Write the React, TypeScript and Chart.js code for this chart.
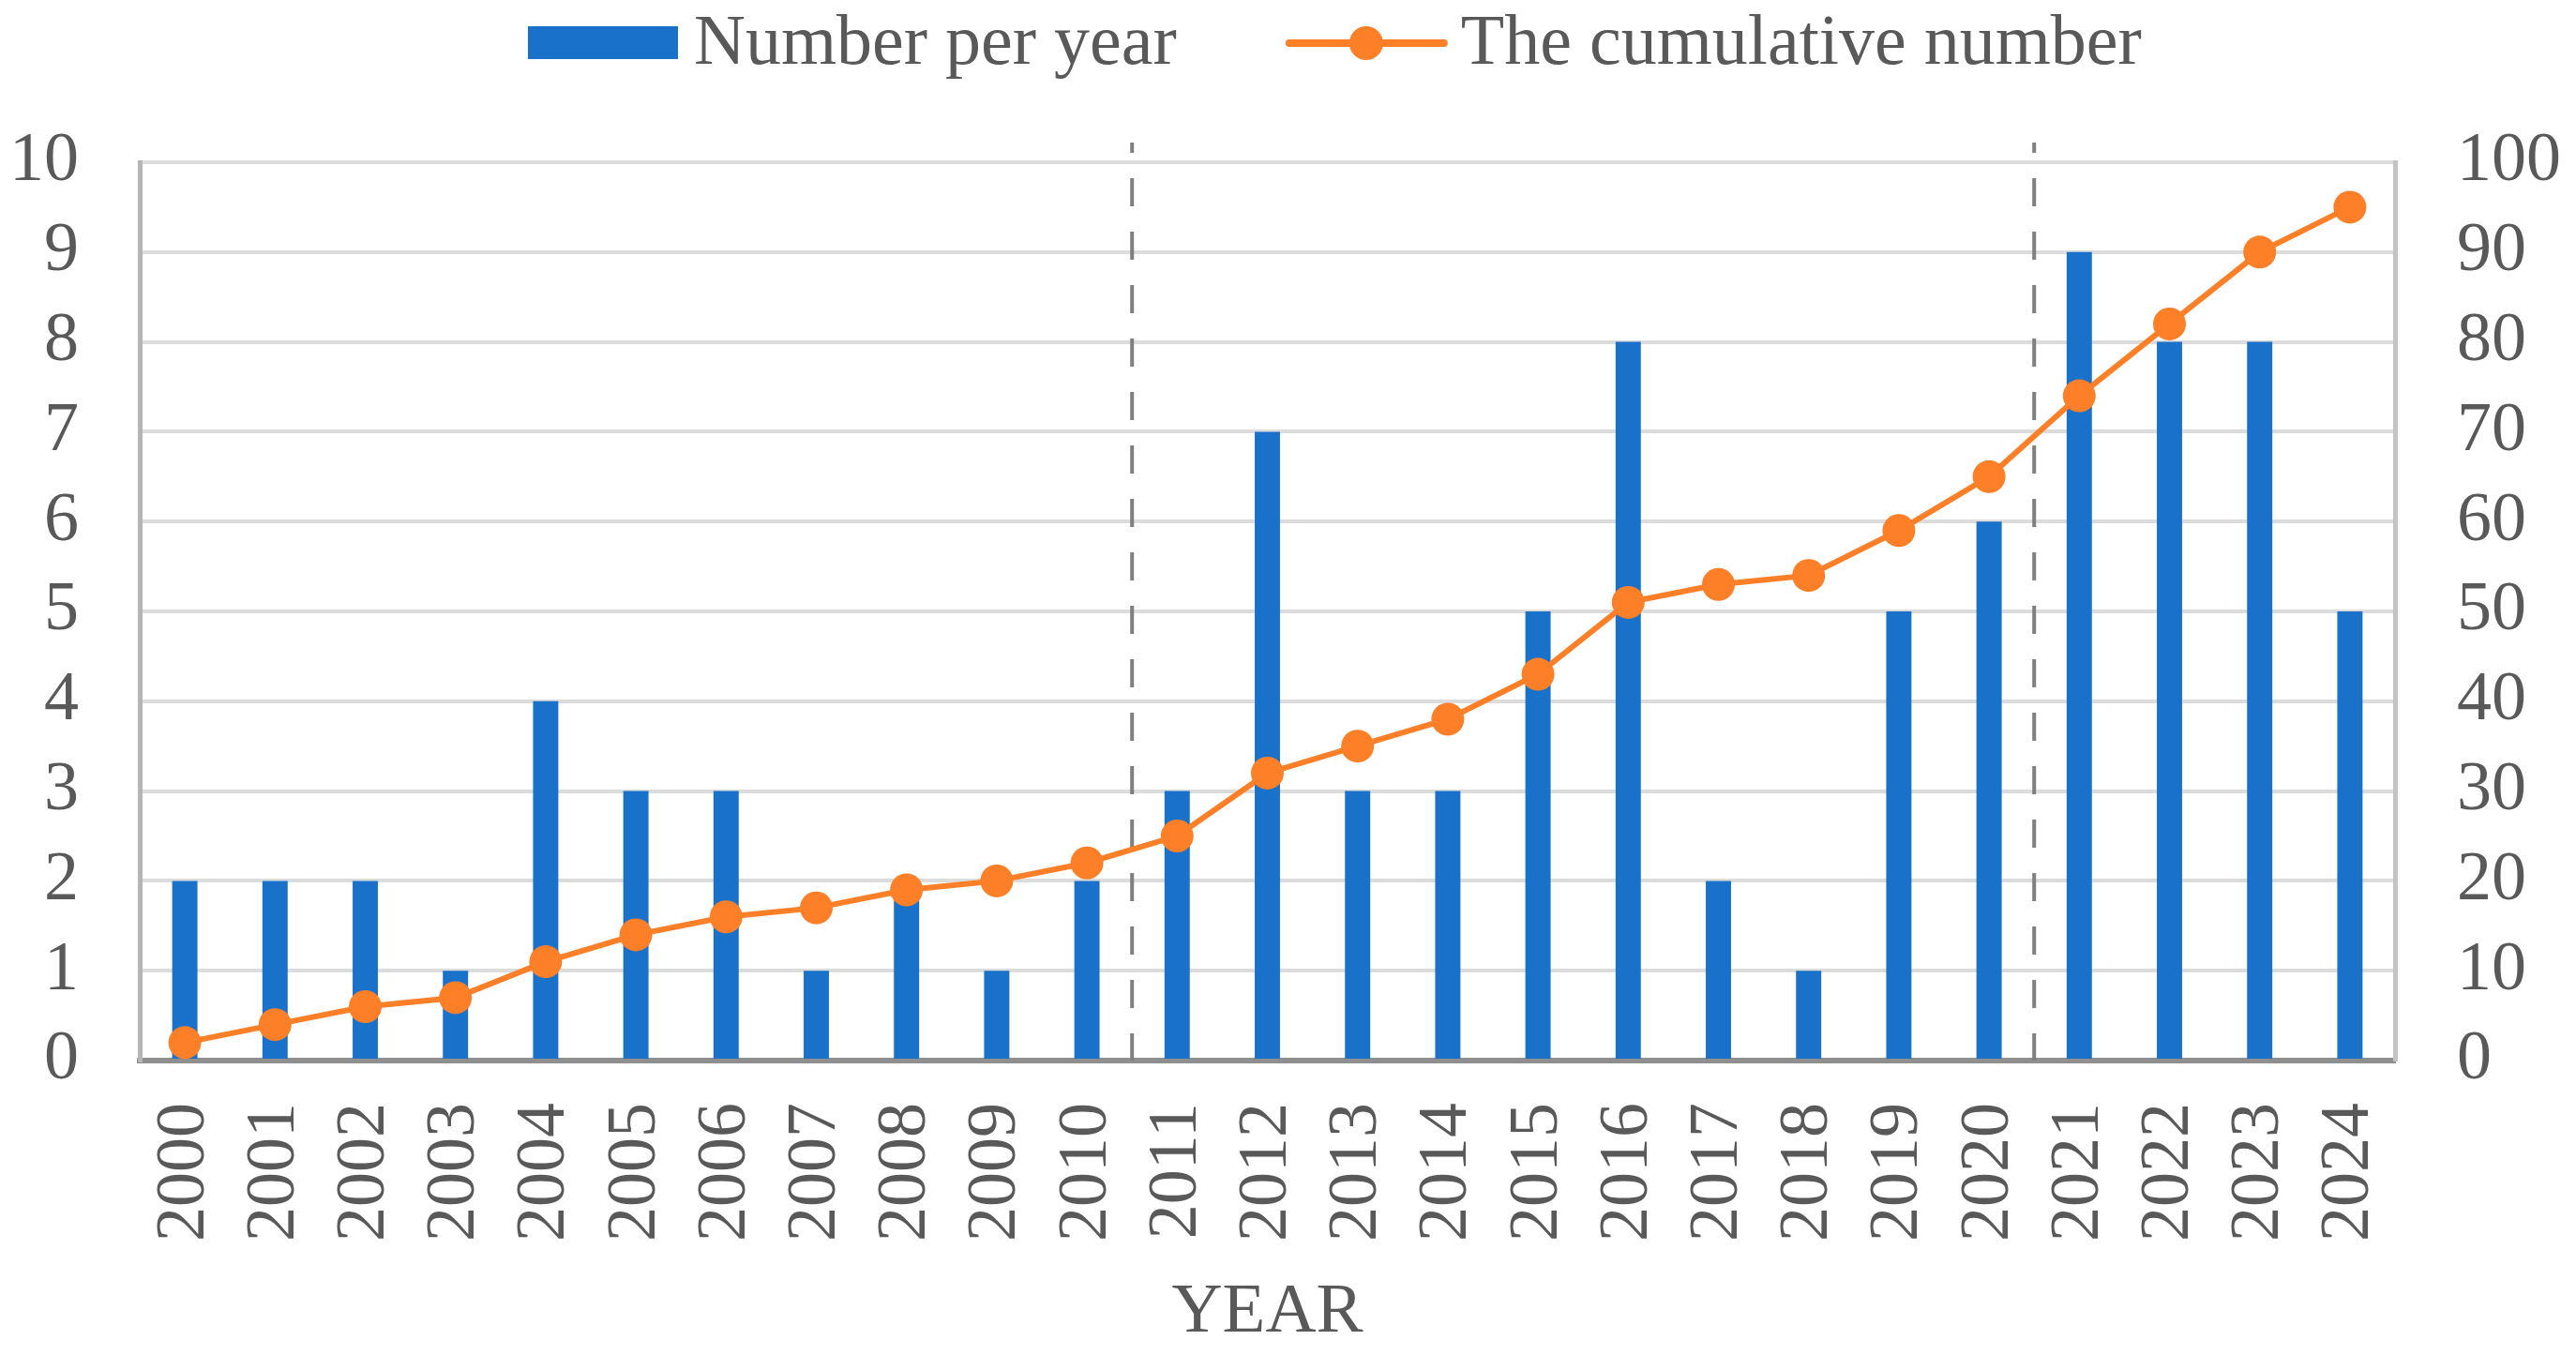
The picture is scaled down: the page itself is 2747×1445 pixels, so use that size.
import React, { useEffect, useRef } from 'react';
import { Chart, registerables } from 'chart.js';

Chart.register(...registerables);

const years = ['2000', '2001', '2002', '2003', '2004', '2005', '2006', '2007', '2008', '2009', '2010', '2011', '2012', '2013', '2014', '2015', '2016', '2017', '2018', '2019', '2020', '2021', '2022', '2023', '2024'];
const numberPerYear = [2, 2, 2, 1, 4, 3, 3, 1, 2, 1, 2, 3, 7, 3, 3, 5, 8, 2, 1, 5, 6, 9, 8, 8, 5];
const cumulativeNumber = [2, 4, 6, 7, 11, 14, 16, 17, 19, 20, 22, 25, 32, 35, 38, 43, 51, 53, 54, 59, 65, 74, 82, 90, 95];
const dividerAfterYears = ['2010', '2020'];
const leftAxisMax = 10;
const leftAxisStep = 1;
const rightAxisMax = 100;
const rightAxisStep = 10;
const seriesNames = ['Number per year', 'The cumulative number'];
const xAxisTitle = 'YEAR';

const BLUE = '#1a71c9';
const ORANGE = '#fd7f28';
const TEXT = '#595959';
const FONT_FAMILY = "'Liberation Serif', 'Times New Roman', serif";
const FONT_SIZE = 74;

const dividerPlugin = {
  id: 'dividers',
  beforeDatasetsDraw(chart: any) {
    const { ctx, chartArea } = chart;
    const x = chart.scales.x;
    ctx.save();
    ctx.strokeStyle = '#7f7f7f';
    ctx.lineWidth = 4;
    ctx.setLineDash([30, 27]);
    ctx.lineDashOffset = 19;
    dividerAfterYears.forEach((label) => {
      const i = years.indexOf(label);
      const px = (x.getPixelForValue(i) + x.getPixelForValue(i + 1)) / 2;
      ctx.beginPath();
      ctx.moveTo(px, chartArea.top - 21);
      ctx.lineTo(px, chartArea.bottom);
      ctx.stroke();
    });
    ctx.restore();
  },
};

const legendPlugin = {
  id: 'customLegend',
  afterDraw(chart: any) {
    const { ctx } = chart;
    ctx.save();
    ctx.font = `76px ${FONT_FAMILY}`;
    ctx.fillStyle = TEXT;
    ctx.textBaseline = 'alphabetic';
    ctx.textAlign = 'left';
    const cy = 46;
    const baseline = 68;
    // item 1: bar swatch
    let x = 563;
    ctx.fillStyle = BLUE;
    ctx.fillRect(x, cy - 18, 160, 35);
    x += 160 + 17;
    ctx.fillStyle = TEXT;
    ctx.fillText(seriesNames[0], x, baseline);
    x += ctx.measureText(seriesNames[0]).width + 120;
    // item 2: line with marker
    ctx.strokeStyle = ORANGE;
    ctx.lineWidth = 8;
    ctx.lineCap = 'round';
    ctx.beginPath();
    ctx.moveTo(x, cy);
    ctx.lineTo(x + 165, cy);
    ctx.stroke();
    ctx.fillStyle = ORANGE;
    ctx.beginPath();
    ctx.arc(x + 82, cy, 18, 0, Math.PI * 2);
    ctx.fill();
    x += 165 + 18;
    ctx.fillStyle = TEXT;
    ctx.fillText(seriesNames[1], x, baseline);
    ctx.restore();
  },
};

export default function App() {
  const canvasRef = useRef<HTMLCanvasElement | null>(null);

  useEffect(() => {
    document.body.style.margin = '0';
    const canvas = canvasRef.current;
    if (!canvas) return;
    const font = { family: FONT_FAMILY, size: FONT_SIZE };
    const chart = new Chart(canvas, {
      type: 'bar',
      data: {
        labels: years,
        datasets: [
          {
            type: 'line',
            label: seriesNames[1],
            data: cumulativeNumber,
            yAxisID: 'y1',
            borderColor: ORANGE,
            backgroundColor: ORANGE,
            borderWidth: 6,
            pointRadius: 17.5,
            pointBackgroundColor: ORANGE,
            pointBorderWidth: 0,
            tension: 0,
            order: 1,
          } as any,
          {
            type: 'bar',
            label: seriesNames[0],
            data: numberPerYear,
            yAxisID: 'y',
            backgroundColor: BLUE,
            barPercentage: 0.28,
            categoryPercentage: 1,
            order: 2,
          },
        ],
      },
      options: {
        responsive: false,
        animation: false,
        devicePixelRatio: 1,
        layout: { padding: { top: 173, left: 0, right: 0, bottom: 0 } },
        plugins: {
          legend: { display: false },
          tooltip: { enabled: false },
        },
        scales: {
          x: {
            grid: { display: false },
            border: { display: true, color: '#8f8f8f', width: 6 },
            ticks: {
              color: TEXT,
              font,
              minRotation: 90,
              maxRotation: 90,
              autoSkip: false,
              padding: 37,
            },
            title: {
              display: true,
              text: xAxisTitle,
              color: TEXT,
              font: { family: FONT_FAMILY, size: 75 },
              padding: { top: 0, bottom: 0 },
            },
            afterFit: (s: any) => {
              s.height = 314;
            },
          },
          y: {
            position: 'left',
            min: 0,
            max: leftAxisMax,
            ticks: { stepSize: leftAxisStep, color: TEXT, font, padding: 65 },
            grid: { color: '#dcdcdc', lineWidth: 4, drawTicks: false },
            border: { display: true, color: '#b5b5b5', width: 5 },
            afterFit: (s: any) => {
              s.width = 149;
            },
          },
          y1: {
            position: 'right',
            min: 0,
            max: rightAxisMax,
            ticks: { stepSize: rightAxisStep, color: TEXT, font, padding: 66 },
            grid: { display: false, drawTicks: false },
            border: { display: true, color: '#c4c4c4', width: 5 },
            afterFit: (s: any) => {
              s.width = 193;
            },
          },
        },
      },
      plugins: [dividerPlugin, legendPlugin],
    });
    return () => chart.destroy();
  }, []);

  return <canvas ref={canvasRef} width={2747} height={1445} style={{ display: 'block' }} />;
}
